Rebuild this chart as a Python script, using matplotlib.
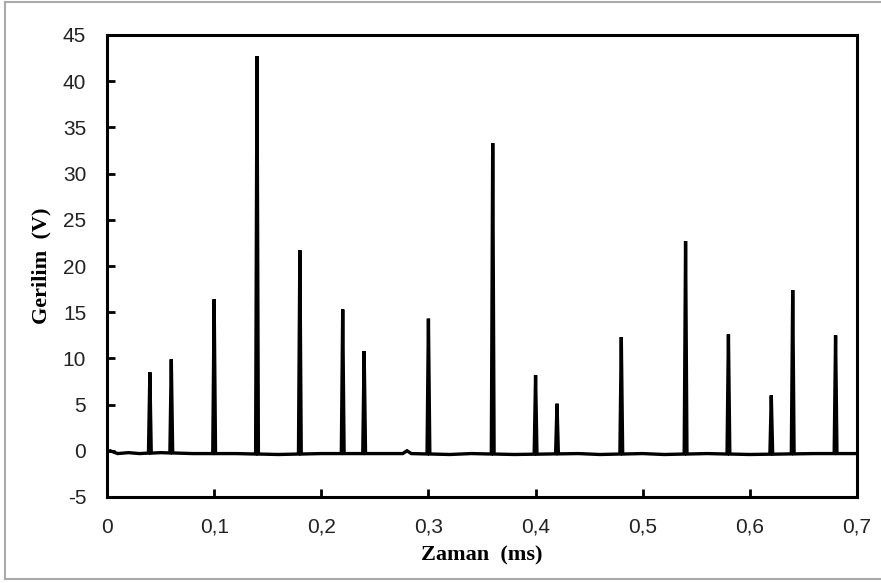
import numpy as np
import matplotlib.pyplot as plt
from matplotlib.lines import Line2D

plt.rcParams['axes.unicode_minus'] = False

# spike times (ms) and peak voltages (V)
spike_t = [0.04, 0.06, 0.10, 0.14, 0.18, 0.22, 0.24, 0.30, 0.36, 0.40,
           0.42, 0.48, 0.54, 0.58, 0.62, 0.64, 0.68]
spike_v = [8.5, 9.9, 16.4, 42.7, 21.7, 15.3, 10.8, 14.3, 33.3, 8.2,
           5.1, 12.3, 22.7, 12.6, 6.0, 17.4, 12.5]

# baseline readings between spikes
base_t = [0.0, 0.003, 0.01, 0.02, 0.03, 0.05, 0.08, 0.12, 0.16, 0.20, 0.26,
          0.276, 0.28, 0.284, 0.32, 0.34, 0.38, 0.44, 0.46, 0.50, 0.52,
          0.56, 0.60, 0.66, 0.70]
base_v = [-0.1, 0.0, -0.3, -0.2, -0.3, -0.2, -0.3, -0.3, -0.4, -0.3, -0.3,
          -0.3, 0.0, -0.3, -0.4, -0.3, -0.4, -0.3, -0.4, -0.3, -0.4,
          -0.3, -0.4, -0.3, -0.3]

half_w = 0.0013
t = list(base_t)
v = list(base_v)
for st, sv in zip(spike_t, spike_v):
    b = np.interp(st, base_t, base_v)
    t += [st - half_w, st, st + half_w]
    v += [b, sv, b]
order = np.argsort(t, kind='stable')
t = np.array(t)[order]
v = np.array(v)[order]

fig = plt.figure(figsize=(8.81, 5.83), dpi=100)
ax = fig.add_axes([107 / 881, 1 - 497 / 583, 750 / 881, 462 / 583])
ax.plot(t, v, color='k', lw=2.4, solid_joinstyle='miter')

ax.set_xlim(0, 0.7)
ax.set_ylim(-5, 45)
ax.set_xticks(np.arange(0, 0.71, 0.1))
ax.set_xticklabels(['0', '0,1', '0,2', '0,3', '0,4', '0,5', '0,6', '0,7'])
ax.set_yticks(range(-5, 46, 5))
ax.tick_params(direction='in', length=6, width=2, labelsize=15,
               labelfontfamily='Liberation Sans', labelcolor='#222222')
ax.tick_params(axis='x', pad=15)
ax.tick_params(axis='y', pad=15)
for s in ax.spines.values():
    s.set_linewidth(2.2)

ax.set_xlabel('Zaman  (ms)', family='Liberation Serif', fontweight='bold',
              fontsize=16, labelpad=6)
ax.set_ylabel('Gerilim  (V)', family='Liberation Serif', fontweight='bold',
              fontsize=16, labelpad=8)

# thin gray frame around the image
for xs, ys in [([5 / 881, 1], [1 - 1.5 / 583] * 2),
               ([5 / 881] * 2, [1 - 579 / 583, 1 - 1.5 / 583]),
               ([5 / 881, 1], [1 - 579 / 583] * 2)]:
    fig.add_artist(Line2D(xs, ys, color='#aaaaaa', lw=1.5,
                          transform=fig.transFigure))

fig.savefig('out.png', dpi=100)
